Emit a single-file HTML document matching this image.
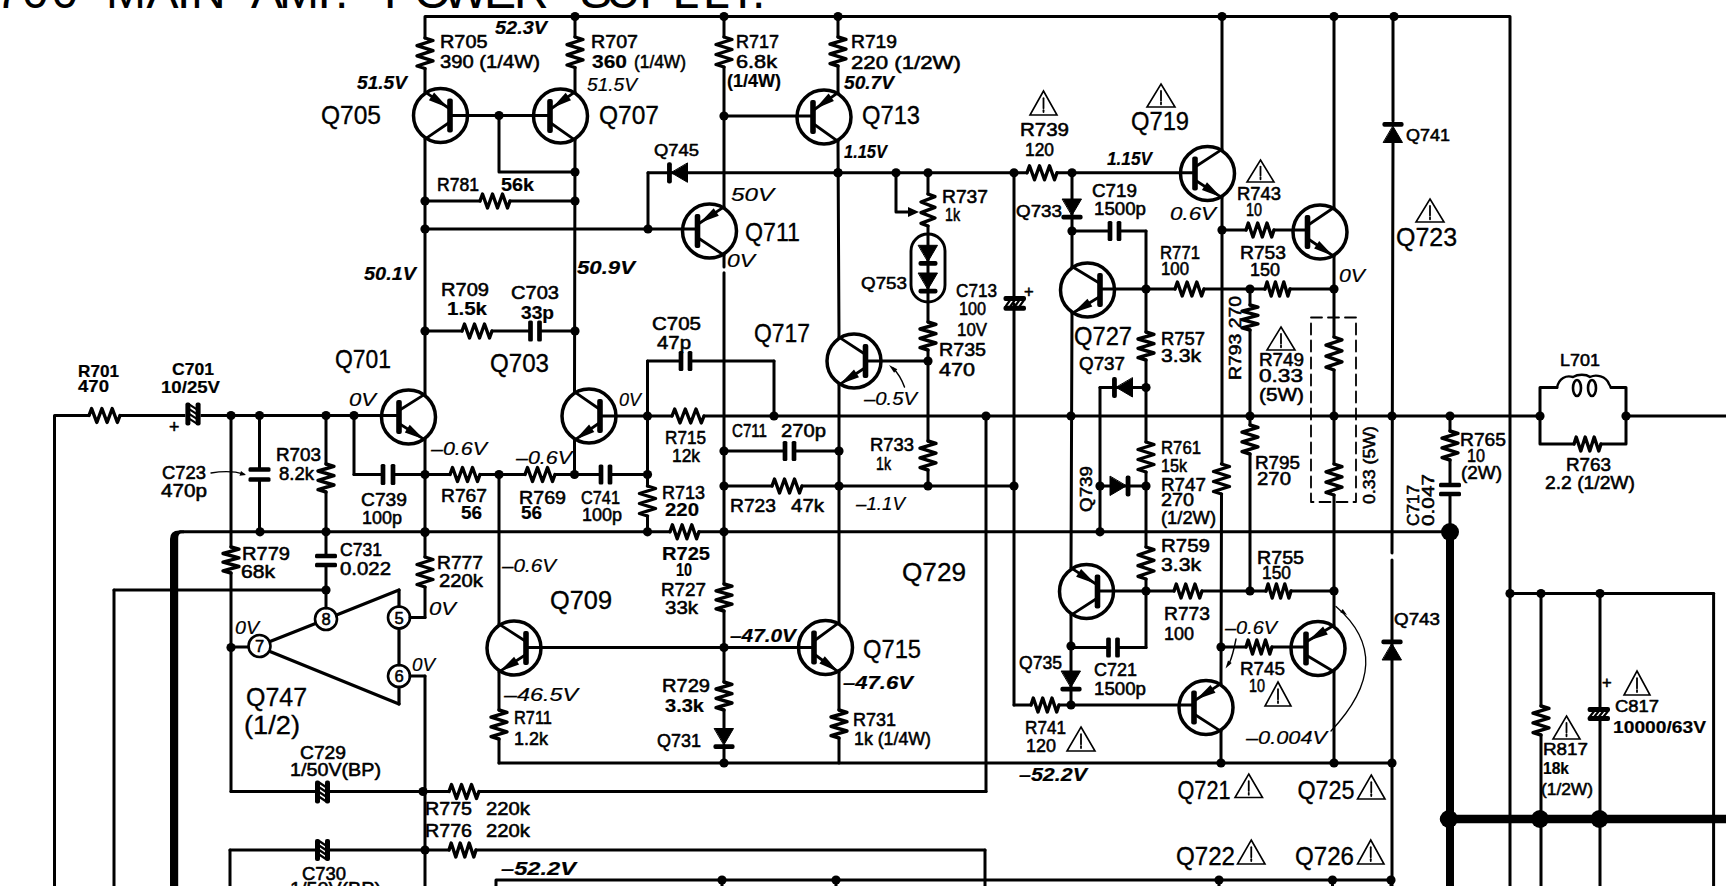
<!DOCTYPE html>
<html><head><meta charset="utf-8"><style>
html,body{margin:0;padding:0;background:#fff;width:1726px;height:886px;overflow:hidden}
svg{display:block}
text{font-family:"Liberation Sans",sans-serif;fill:#000;stroke:#000;stroke-width:0.55}
.n{}
.b{font-weight:bold;stroke-width:0.2}
.i{font-style:italic;stroke-width:0.2}
.bi{font-style:italic;font-weight:bold;stroke-width:0.2}
.q{stroke-width:0.35}
</style></head><body>
<svg width="1726" height="886" viewBox="0 0 1726 886" stroke="#000" stroke-linecap="round" stroke-linejoin="round" fill="none">
<rect x="0" y="0" width="1726" height="886" fill="#fff" stroke="none"/>
<polyline points="425,38 425,16.5 1510,16.5 1510,886" stroke-width="3.0" fill="none"/>
<circle cx="575" cy="16.5" r="4.6" fill="#000" stroke="none"/>
<circle cx="724" cy="16.5" r="4.6" fill="#000" stroke="none"/>
<circle cx="838" cy="16.5" r="4.6" fill="#000" stroke="none"/>
<circle cx="1222" cy="16.5" r="4.6" fill="#000" stroke="none"/>
<circle cx="1334" cy="16.5" r="4.6" fill="#000" stroke="none"/>
<circle cx="1394" cy="16.5" r="4.6" fill="#000" stroke="none"/>
<polyline points="425,38 433,40.5 417,45.6 433,50.7 417,55.8 433,60.9 417,66.0 425,68.5" stroke-width="3.4" fill="none"/>
<circle cx="440.5" cy="115.5" r="27" fill="none" stroke-width="3.5"/>
<rect x="447.2" y="98.5" width="5.6" height="34" rx="2" fill="#000" stroke="none"/>
<line x1="450" y1="109.0" x2="425" y2="91.94177426035654" stroke-width="2.8"/>
<line x1="450" y1="122.0" x2="425" y2="139.05822573964346" stroke-width="2.8"/>
<polygon points="448.0,107.63534194082852 428.9,100.2 434.1,92.6" fill="#000" stroke="none"/>
<line x1="425" y1="68.5" x2="425" y2="91.94177426035654" stroke-width="3.0"/>
<circle cx="408.5" cy="417" r="27" fill="none" stroke-width="3.5"/>
<rect x="396.2" y="400.0" width="5.6" height="34" rx="2" fill="#000" stroke="none"/>
<line x1="399" y1="410.5" x2="425" y2="394.1310253837213" stroke-width="2.8"/>
<line x1="399" y1="423.5" x2="425" y2="439.8689746162787" stroke-width="2.8"/>
<polygon points="424.22,439.37790537779034 404.8,432.6 409.7,424.8" fill="#000" stroke="none"/>
<line x1="425" y1="139.05822573964346" x2="425" y2="394.1310253837213" stroke-width="3.0"/>
<circle cx="425" cy="201" r="4.6" fill="#000" stroke="none"/>
<circle cx="425" cy="229" r="4.6" fill="#000" stroke="none"/>
<circle cx="425" cy="331" r="4.6" fill="#000" stroke="none"/>
<line x1="425" y1="439.8689746162787" x2="425" y2="557" stroke-width="3.0"/>
<polyline points="425,557 433,559.5 417,564.5 433,569.5 417,574.5 433,579.5 417,584.5 425,587" stroke-width="3.4" fill="none"/>
<line x1="425" y1="587" x2="425" y2="617.5" stroke-width="3.0"/>
<line x1="425" y1="617.5" x2="410" y2="617.5" stroke-width="3.0"/>
<circle cx="425" cy="474.5" r="4.6" fill="#000" stroke="none"/>
<circle cx="425" cy="532.5" r="4.6" fill="#000" stroke="none"/>
<line x1="575" y1="16.5" x2="575" y2="37" stroke-width="3.0"/>
<polyline points="575,37 583,39.5 567,44.6 583,49.7 567,54.8 583,59.9 567,65.0 575,67.5" stroke-width="3.4" fill="none"/>
<circle cx="560.5" cy="116" r="27" fill="none" stroke-width="3.5"/>
<rect x="547.2" y="99.0" width="5.6" height="34" rx="2" fill="#000" stroke="none"/>
<line x1="550" y1="109.5" x2="575" y2="91.81343348054544" stroke-width="2.8"/>
<line x1="550" y1="122.5" x2="575" y2="140.18656651945454" stroke-width="2.8"/>
<polygon points="552.0,108.08507467844363 565.7,92.8 571.0,100.3" fill="#000" stroke="none"/>
<line x1="575" y1="67.5" x2="575" y2="91.81343348054544" stroke-width="3.0"/>
<circle cx="589" cy="416" r="27" fill="none" stroke-width="3.5"/>
<rect x="597.2" y="399.0" width="5.6" height="34" rx="2" fill="#000" stroke="none"/>
<line x1="600" y1="409.5" x2="574.5" y2="391.8134334805454" stroke-width="2.8"/>
<line x1="600" y1="422.5" x2="574.5" y2="440.1865665194546" stroke-width="2.8"/>
<polygon points="575.265,439.6559695238709 589.1,424.5 594.3,432.0" fill="#000" stroke="none"/>
<line x1="575" y1="140.18656651945454" x2="574.5" y2="391.8134334805454" stroke-width="3.0"/>
<circle cx="575" cy="172" r="4.6" fill="#000" stroke="none"/>
<circle cx="575" cy="201" r="4.6" fill="#000" stroke="none"/>
<circle cx="575" cy="331" r="4.6" fill="#000" stroke="none"/>
<line x1="574.5" y1="440.1865665194546" x2="574.5" y2="474.5" stroke-width="3.0"/>
<circle cx="574.5" cy="474.5" r="4.6" fill="#000" stroke="none"/>
<line x1="450" y1="115.5" x2="550" y2="115.5" stroke-width="3.0"/>
<circle cx="499" cy="115.5" r="4.6" fill="#000" stroke="none"/>
<polyline points="499,115.5 499,172 575,172" stroke-width="3.0" fill="none"/>
<line x1="425" y1="201" x2="480" y2="201" stroke-width="3.0"/>
<polyline points="480,201 482.5,194 487.5,208 492.5,194 497.5,208 502.5,194 507.5,208 510,201" stroke-width="3.4" fill="none"/>
<line x1="510" y1="201" x2="575" y2="201" stroke-width="3.0"/>
<line x1="425" y1="229" x2="697.5" y2="229" stroke-width="3.0"/>
<circle cx="648" cy="229" r="4.6" fill="#000" stroke="none"/>
<line x1="648" y1="229" x2="648" y2="172.8" stroke-width="3.0"/>
<line x1="425" y1="331" x2="462" y2="331" stroke-width="3.0"/>
<polyline points="462,331 464.5,324 469.5,338 474.5,324 479.5,338 484.5,324 489.5,338 492,331" stroke-width="3.4" fill="none"/>
<line x1="492" y1="331" x2="575" y2="331" stroke-width="3.0"/>
<rect x="529.5" y="320.5" width="11" height="21.0" fill="#fff" stroke="none"/>
<rect x="528.15" y="320.5" width="4.7" height="21.0" rx="1.5" fill="#000" stroke="none"/>
<rect x="537.15" y="320.5" width="4.7" height="21.0" rx="1.5" fill="#000" stroke="none"/>
<line x1="724" y1="16.5" x2="724" y2="37" stroke-width="3.0"/>
<polyline points="724,37 732,39.5 716,44.5 732,49.5 716,54.5 732,59.5 716,64.5 724,67" stroke-width="3.4" fill="none"/>
<circle cx="709.5" cy="231" r="27" fill="none" stroke-width="3.5"/>
<rect x="694.7" y="214.0" width="5.6" height="34" rx="2" fill="#000" stroke="none"/>
<line x1="697.5" y1="224.5" x2="724" y2="206.81343348054546" stroke-width="2.8"/>
<line x1="697.5" y1="237.5" x2="724" y2="255.18656651945454" stroke-width="2.8"/>
<polygon points="699.62,223.08507467844365 713.7,208.2 718.8,215.8" fill="#000" stroke="none"/>
<line x1="724" y1="67" x2="724" y2="206.81343348054546" stroke-width="3.0"/>
<circle cx="724" cy="116" r="4.6" fill="#000" stroke="none"/>
<line x1="724" y1="255.18656651945454" x2="724" y2="267" stroke-width="3.0"/>
<line x1="724" y1="272.7" x2="724" y2="584" stroke-width="3.0"/>
<polyline points="724,584 732,586.2 716,590.8 732,595.2 716,599.8 732,604.2 716,608.8 724,611" stroke-width="3.4" fill="none"/>
<line x1="724" y1="611" x2="724" y2="682" stroke-width="3.0"/>
<polyline points="724,682 732,684.3 716,689.0 732,693.7 716,698.3 732,703.0 716,707.7 724,710" stroke-width="3.4" fill="none"/>
<line x1="724" y1="710" x2="724" y2="730" stroke-width="3.0"/>
<polygon points="714.5,728.5 733.5,728.5 724,744.65" fill="#000" stroke="#000" stroke-width="1"/>
<rect x="713.4" y="744.15" width="21.2" height="4.8" rx="2" fill="#000" stroke="none"/>
<line x1="724" y1="745" x2="724" y2="763" stroke-width="3.0"/>
<circle cx="724" cy="451" r="4.6" fill="#000" stroke="none"/>
<circle cx="724" cy="486" r="4.6" fill="#000" stroke="none"/>
<circle cx="724" cy="531.8" r="4.6" fill="#000" stroke="none"/>
<circle cx="724" cy="647.5" r="4.6" fill="#000" stroke="none"/>
<circle cx="724" cy="763" r="4.6" fill="#000" stroke="none"/>
<line x1="838" y1="16.5" x2="838" y2="37" stroke-width="3.0"/>
<polyline points="838,37 846,39.4 830,44.2 846,49.1 830,53.9 846,58.8 830,63.6 838,66" stroke-width="3.4" fill="none"/>
<circle cx="824" cy="117" r="27" fill="none" stroke-width="3.5"/>
<rect x="810.2" y="100.0" width="5.6" height="34" rx="2" fill="#000" stroke="none"/>
<line x1="813" y1="110.5" x2="838" y2="92.52062092290738" stroke-width="2.8"/>
<line x1="813" y1="123.5" x2="838" y2="141.47937907709263" stroke-width="2.8"/>
<polygon points="815.0,109.06164967383259 828.6,93.6 833.9,101.1" fill="#000" stroke="none"/>
<line x1="838" y1="66" x2="838" y2="92.52062092290738" stroke-width="3.0"/>
<line x1="724" y1="116" x2="813" y2="116" stroke-width="3.0"/>
<circle cx="854" cy="361" r="27" fill="none" stroke-width="3.5"/>
<rect x="862.7" y="344.0" width="5.6" height="34" rx="2" fill="#000" stroke="none"/>
<line x1="865.5" y1="354.5" x2="839" y2="337.1203015094411" stroke-width="2.8"/>
<line x1="865.5" y1="367.5" x2="839" y2="384.8796984905589" stroke-width="2.8"/>
<polygon points="839.795,384.35830753584213 854.0,369.5 859.0,377.2" fill="#000" stroke="none"/>
<line x1="838" y1="141.47937907709263" x2="839" y2="337.1203015094411" stroke-width="3.0"/>
<circle cx="838" cy="172.8" r="4.6" fill="#000" stroke="none"/>
<circle cx="825.5" cy="647.5" r="27" fill="none" stroke-width="3.5"/>
<rect x="811.2" y="630.5" width="5.6" height="34" rx="2" fill="#000" stroke="none"/>
<line x1="814" y1="641.0" x2="839" y2="622.7413651426416" stroke-width="2.8"/>
<line x1="814" y1="654.0" x2="839" y2="672.2586348573584" stroke-width="2.8"/>
<polygon points="838.25,671.7108758116376 819.4,663.6 824.8,656.2" fill="#000" stroke="none"/>
<line x1="839" y1="384.8796984905589" x2="839" y2="622.7413651426416" stroke-width="3.0"/>
<circle cx="839" cy="451" r="4.6" fill="#000" stroke="none"/>
<circle cx="839" cy="486" r="4.6" fill="#000" stroke="none"/>
<line x1="839" y1="672.2586348573584" x2="839" y2="710" stroke-width="3.0"/>
<polyline points="839,710 847,712.3 831,717.0 847,721.7 831,726.3 847,731.0 831,735.7 839,738" stroke-width="3.4" fill="none"/>
<line x1="839" y1="738" x2="839" y2="763" stroke-width="3.0"/>
<line x1="648" y1="172.8" x2="1027" y2="172.8" stroke-width="3.0"/>
<polyline points="1027,172.8 1029.5,165.8 1034.5,179.8 1039.5,165.8 1044.5,179.8 1049.5,165.8 1054.5,179.8 1057,172.8" stroke-width="3.4" fill="none"/>
<line x1="1057" y1="172.8" x2="1195" y2="172.8" stroke-width="3.0"/>
<polygon points="687.5,163.3 687.5,182.3 671.35,172.8" fill="#000" stroke="#000" stroke-width="1"/>
<rect x="667.0500000000001" y="162.20000000000002" width="4.8" height="21.2" rx="2" fill="#000" stroke="none"/>
<circle cx="838" cy="172.8" r="4.6" fill="#000" stroke="none"/>
<circle cx="896" cy="172.8" r="4.6" fill="#000" stroke="none"/>
<circle cx="928" cy="172.8" r="4.6" fill="#000" stroke="none"/>
<circle cx="1014" cy="172.8" r="4.6" fill="#000" stroke="none"/>
<circle cx="1072" cy="172.8" r="4.6" fill="#000" stroke="none"/>
<polyline points="896,172.8 896,212 909,212" stroke-width="3.0" fill="none"/>
<polygon points="919,212 908.0,217.0 908.0,207.0" fill="#000" stroke="none"/>
<line x1="928" y1="172.8" x2="928" y2="194" stroke-width="3.0"/>
<polyline points="928,194 935,196.7 921,202.0 935,207.3 921,212.7 935,218.0 921,223.3 928,226" stroke-width="3.4" fill="none"/>
<line x1="928" y1="226" x2="928" y2="322" stroke-width="3.0"/>
<rect x="911" y="234" width="34" height="68" rx="17" ry="17" fill="none" stroke-width="2.9"/>
<polygon points="918.5,245.3 937.5,245.3 928,261.45" fill="#000" stroke="#000" stroke-width="1"/>
<rect x="918.5" y="260.95" width="19.0" height="4.8" rx="2" fill="#000" stroke="none"/>
<polygon points="918.5,273.0 937.5,273.0 928,289.15" fill="#000" stroke="#000" stroke-width="1"/>
<rect x="918.5" y="288.65" width="19.0" height="4.8" rx="2" fill="#000" stroke="none"/>
<polyline points="928,322 936,324.3 920,329.0 936,333.7 920,338.3 936,343.0 920,347.7 928,350" stroke-width="3.4" fill="none"/>
<line x1="928" y1="350" x2="928" y2="441" stroke-width="3.0"/>
<polyline points="928,441 936,443.4 920,448.2 936,453.1 920,457.9 936,462.8 920,467.6 928,470" stroke-width="3.4" fill="none"/>
<line x1="928" y1="470" x2="928" y2="486" stroke-width="3.0"/>
<circle cx="928" cy="361" r="4.6" fill="#000" stroke="none"/>
<circle cx="928" cy="486" r="4.6" fill="#000" stroke="none"/>
<line x1="865.5" y1="361" x2="928" y2="361" stroke-width="3.0"/>
<path d="M904.5,387 Q900,375 893,368" fill="none" stroke-width="1.5"/>
<polygon points="889,365 897.3,369.2 894.1,372.8" fill="#000" stroke="none"/>
<circle cx="986" cy="416" r="4.6" fill="#000" stroke="none"/>
<line x1="986" y1="416" x2="986" y2="791.5" stroke-width="3.0"/>
<line x1="231" y1="791.5" x2="449" y2="791.5" stroke-width="3.0"/>
<polyline points="449,791.5 451.5,784.5 456.5,798.5 461.5,784.5 466.5,798.5 471.5,784.5 476.5,798.5 479,791.5" stroke-width="3.4" fill="none"/>
<line x1="479" y1="791.5" x2="986" y2="791.5" stroke-width="3.0"/>
<circle cx="423" cy="791.5" r="4.6" fill="#000" stroke="none"/>
<rect x="315" y="780.4" width="15" height="23.0" fill="#fff" stroke="none"/>
<rect x="315" y="780.4" width="5" height="23.0" rx="2" fill="#000" stroke="none"/>
<rect x="325" y="780.4" width="5" height="23.0" rx="2" fill="#000" stroke="none"/>
<line x1="319.5" y1="782.775" x2="325.5" y2="786.775" stroke-width="2.2"/>
<line x1="319.5" y1="787.525" x2="325.5" y2="791.525" stroke-width="2.2"/>
<line x1="319.5" y1="792.275" x2="325.5" y2="796.275" stroke-width="2.2"/>
<line x1="319.5" y1="797.025" x2="325.5" y2="801.025" stroke-width="2.2"/>
<line x1="1014" y1="172.8" x2="1014" y2="296" stroke-width="3.0"/>
<rect x="1003.5" y="296" width="22.5" height="14.699999999999989" fill="#fff" stroke="none"/>
<rect x="1003.5" y="296" width="22.5" height="5" rx="2" fill="#000" stroke="none"/>
<rect x="1003.5" y="305.7" width="22.5" height="5" rx="2" fill="#000" stroke="none"/>
<line x1="1005.8125" y1="306.2" x2="1009.8125" y2="300.5" stroke-width="2.2"/>
<line x1="1010.4375" y1="306.2" x2="1014.4375" y2="300.5" stroke-width="2.2"/>
<line x1="1015.0625" y1="306.2" x2="1019.0625" y2="300.5" stroke-width="2.2"/>
<line x1="1019.6875" y1="306.2" x2="1023.6875" y2="300.5" stroke-width="2.2"/>
<line x1="1014" y1="304" x2="1014" y2="705" stroke-width="3.0"/>
<circle cx="1014" cy="486" r="4.6" fill="#000" stroke="none"/>
<line x1="1014" y1="705" x2="1031" y2="705" stroke-width="3.0"/>
<polyline points="1031,705 1033.3,698 1038.0,712 1042.7,698 1047.3,712 1052.0,698 1056.7,712 1059,705" stroke-width="3.4" fill="none"/>
<line x1="1059" y1="705" x2="1194" y2="705" stroke-width="3.0"/>
<circle cx="1071" cy="705" r="4.6" fill="#000" stroke="none"/>
<line x1="724" y1="486" x2="772" y2="486" stroke-width="3.0"/>
<polyline points="772,486 774.5,479 779.5,493 784.5,479 789.5,493 794.5,479 799.5,493 802,486" stroke-width="3.4" fill="none"/>
<line x1="802" y1="486" x2="1014" y2="486" stroke-width="3.0"/>
<line x1="724" y1="451" x2="785" y2="451" stroke-width="3.0"/>
<rect x="784.0" y="441" width="11" height="20" fill="#fff" stroke="none"/>
<rect x="782.65" y="441" width="4.7" height="20" rx="1.5" fill="#000" stroke="none"/>
<rect x="791.65" y="441" width="4.7" height="20" rx="1.5" fill="#000" stroke="none"/>
<line x1="794" y1="451" x2="839" y2="451" stroke-width="3.0"/>
<line x1="600" y1="416" x2="672" y2="416" stroke-width="3.0"/>
<polyline points="672,416 674.7,409 680.0,423 685.3,409 690.7,423 696.0,409 701.3,423 704,416" stroke-width="3.4" fill="none"/>
<line x1="704" y1="416" x2="1540" y2="416" stroke-width="3.0"/>
<line x1="1626" y1="416" x2="1726" y2="416" stroke-width="3.0"/>
<circle cx="647.5" cy="416" r="4.6" fill="#000" stroke="none"/>
<circle cx="774" cy="416" r="4.6" fill="#000" stroke="none"/>
<circle cx="1071" cy="416" r="4.6" fill="#000" stroke="none"/>
<circle cx="1250" cy="416" r="4.6" fill="#000" stroke="none"/>
<circle cx="1334" cy="416" r="4.6" fill="#000" stroke="none"/>
<circle cx="1392" cy="416" r="4.6" fill="#000" stroke="none"/>
<circle cx="1450" cy="416" r="4.6" fill="#000" stroke="none"/>
<circle cx="1540" cy="416" r="4.6" fill="#000" stroke="none"/>
<circle cx="1626" cy="416" r="4.6" fill="#000" stroke="none"/>
<line x1="647.5" y1="361" x2="681" y2="361" stroke-width="3.0"/>
<rect x="680.0" y="351" width="11" height="20" fill="#fff" stroke="none"/>
<rect x="678.65" y="351" width="4.7" height="20" rx="1.5" fill="#000" stroke="none"/>
<rect x="687.65" y="351" width="4.7" height="20" rx="1.5" fill="#000" stroke="none"/>
<line x1="690" y1="361" x2="774" y2="361" stroke-width="3.0"/>
<line x1="774" y1="361" x2="774" y2="416" stroke-width="3.0"/>
<line x1="647.5" y1="361" x2="647.5" y2="486" stroke-width="3.0"/>
<polyline points="647.5,486 655.5,488.5 639.5,493.5 655.5,498.5 639.5,503.5 655.5,508.5 639.5,513.5 647.5,516" stroke-width="3.4" fill="none"/>
<line x1="647.5" y1="516" x2="647.5" y2="531.8" stroke-width="3.0"/>
<circle cx="647.5" cy="474.5" r="4.6" fill="#000" stroke="none"/>
<circle cx="647.5" cy="531.8" r="4.6" fill="#000" stroke="none"/>
<line x1="354" y1="415.5" x2="354" y2="474.5" stroke-width="3.0"/>
<line x1="354" y1="474.5" x2="383" y2="474.5" stroke-width="3.0"/>
<rect x="382.0" y="464.0" width="12" height="21.0" fill="#fff" stroke="none"/>
<rect x="380.65" y="464.0" width="4.7" height="21.0" rx="1.5" fill="#000" stroke="none"/>
<rect x="390.65" y="464.0" width="4.7" height="21.0" rx="1.5" fill="#000" stroke="none"/>
<line x1="393" y1="474.5" x2="450" y2="474.5" stroke-width="3.0"/>
<polyline points="450,474.5 452.5,467.5 457.5,481.5 462.5,467.5 467.5,481.5 472.5,467.5 477.5,481.5 480,474.5" stroke-width="3.4" fill="none"/>
<line x1="480" y1="474.5" x2="525" y2="474.5" stroke-width="3.0"/>
<polyline points="525,474.5 527.5,467.5 532.5,481.5 537.5,467.5 542.5,481.5 547.5,467.5 552.5,481.5 555,474.5" stroke-width="3.4" fill="none"/>
<line x1="555" y1="474.5" x2="601" y2="474.5" stroke-width="3.0"/>
<rect x="600.0" y="464.5" width="11" height="20" fill="#fff" stroke="none"/>
<rect x="598.65" y="464.5" width="4.7" height="20" rx="1.5" fill="#000" stroke="none"/>
<rect x="607.65" y="464.5" width="4.7" height="20" rx="1.5" fill="#000" stroke="none"/>
<line x1="610" y1="474.5" x2="647.5" y2="474.5" stroke-width="3.0"/>
<circle cx="499" cy="474.5" r="4.6" fill="#000" stroke="none"/>
<circle cx="514" cy="648" r="27" fill="none" stroke-width="3.5"/>
<rect x="523.2" y="631.0" width="5.6" height="34" rx="2" fill="#000" stroke="none"/>
<line x1="526" y1="641.5" x2="499" y2="624.1203015094411" stroke-width="2.8"/>
<line x1="526" y1="654.5" x2="499" y2="671.8796984905589" stroke-width="2.8"/>
<polygon points="499.81,671.3583075358421 514.1,656.7 519.1,664.4" fill="#000" stroke="none"/>
<line x1="499" y1="474.5" x2="499" y2="624.1203015094411" stroke-width="3.0"/>
<line x1="499" y1="671.8796984905589" x2="499" y2="710" stroke-width="3.0"/>
<polyline points="499,710 507,712.4 491,717.2 507,722.1 491,726.9 507,731.8 491,736.6 499,739" stroke-width="3.4" fill="none"/>
<line x1="499" y1="739" x2="499" y2="763" stroke-width="3.0"/>
<line x1="499" y1="763" x2="1392" y2="763" stroke-width="3.0"/>
<line x1="526" y1="647.5" x2="814" y2="647.5" stroke-width="3.0"/>
<circle cx="1221" cy="763" r="4.6" fill="#000" stroke="none"/>
<circle cx="1334" cy="763" r="4.6" fill="#000" stroke="none"/>
<circle cx="1392" cy="763" r="4.6" fill="#000" stroke="none"/>
<line x1="180" y1="531.8" x2="670" y2="531.8" stroke-width="3.0"/>
<polyline points="670,531.8 672.4,524.8 677.2,538.8 682.1,524.8 686.9,538.8 691.8,524.8 696.6,538.8 699,531.8" stroke-width="3.4" fill="none"/>
<line x1="699" y1="531.8" x2="1450" y2="531.8" stroke-width="3.0"/>
<circle cx="260" cy="531.8" r="4.6" fill="#000" stroke="none"/>
<circle cx="326" cy="531.8" r="4.6" fill="#000" stroke="none"/>
<circle cx="425" cy="531.8" r="4.6" fill="#000" stroke="none"/>
<circle cx="1100" cy="531.8" r="4.6" fill="#000" stroke="none"/>
<path d="M170,886 V539 Q170,530.4 179,530.4 H184 V533.2 H182 Q178.2,533.2 178.2,538 V886 Z" fill="#000" stroke="none"/>
<polyline points="54.5,886 54.5,415.5 89,415.5" stroke-width="3.0" fill="none"/>
<polyline points="89,415.5 91.6,408.5 96.8,422.5 101.9,408.5 107.1,422.5 112.2,408.5 117.4,422.5 120,415.5" stroke-width="3.4" fill="none"/>
<line x1="120" y1="415.5" x2="399" y2="415.5" stroke-width="3.0"/>
<rect x="185.4" y="402.5" width="15.199999999999989" height="23.0" fill="#fff" stroke="none"/>
<rect x="185.4" y="402.5" width="5" height="23.0" rx="2" fill="#000" stroke="none"/>
<rect x="195.6" y="402.5" width="5" height="23.0" rx="2" fill="#000" stroke="none"/>
<line x1="189.9" y1="404.875" x2="196.1" y2="408.875" stroke-width="2.2"/>
<line x1="189.9" y1="409.625" x2="196.1" y2="413.625" stroke-width="2.2"/>
<line x1="189.9" y1="414.375" x2="196.1" y2="418.375" stroke-width="2.2"/>
<line x1="189.9" y1="419.125" x2="196.1" y2="423.125" stroke-width="2.2"/>
<circle cx="231" cy="415.5" r="4.6" fill="#000" stroke="none"/>
<circle cx="259.5" cy="415.5" r="4.6" fill="#000" stroke="none"/>
<circle cx="326" cy="415.5" r="4.6" fill="#000" stroke="none"/>
<circle cx="354" cy="415.5" r="4.6" fill="#000" stroke="none"/>
<line x1="231" y1="415.5" x2="231" y2="547" stroke-width="3.0"/>
<polyline points="231,547 239,549.2 223,553.5 239,557.8 223,562.2 239,566.5 223,570.8 231,573" stroke-width="3.4" fill="none"/>
<line x1="231" y1="573" x2="231" y2="791.5" stroke-width="3.0"/>
<circle cx="231" cy="647.5" r="4.6" fill="#000" stroke="none"/>
<line x1="259.5" y1="415.5" x2="259.5" y2="531.8" stroke-width="3.0"/>
<rect x="248.5" y="468.5" width="22" height="12" fill="#fff" stroke="none"/>
<rect y="467.15" x="248.5" height="4.7" width="22" rx="1.5" fill="#000" stroke="none"/>
<rect y="477.15" x="248.5" height="4.7" width="22" rx="1.5" fill="#000" stroke="none"/>
<line x1="326" y1="415.5" x2="326" y2="464" stroke-width="3.0"/>
<polyline points="326,464 334,466.3 318,471.0 334,475.7 318,480.3 334,485.0 318,489.7 326,492" stroke-width="3.4" fill="none"/>
<line x1="326" y1="492" x2="326" y2="608" stroke-width="3.0"/>
<rect x="315" y="555.0" width="22" height="11" fill="#fff" stroke="none"/>
<rect y="553.65" x="315" height="4.7" width="22" rx="1.5" fill="#000" stroke="none"/>
<rect y="562.65" x="315" height="4.7" width="22" rx="1.5" fill="#000" stroke="none"/>
<circle cx="326" cy="590" r="4.6" fill="#000" stroke="none"/>
<line x1="114" y1="590" x2="326" y2="590" stroke-width="3.0"/>
<line x1="114" y1="590" x2="114" y2="886" stroke-width="3.0"/>
<path d="M211,473 Q230,470 244,474" fill="none" stroke-width="1.3"/>
<polygon points="246,475 239.5,475.7 241.0,470.9" fill="#000" stroke="none"/>
<circle cx="259.5" cy="646" r="11" fill="none" stroke-width="2.6"/>
<circle cx="326" cy="619" r="11" fill="none" stroke-width="2.6"/>
<circle cx="399" cy="617.5" r="11" fill="none" stroke-width="2.6"/>
<circle cx="399" cy="676" r="11" fill="none" stroke-width="2.6"/>
<line x1="231" y1="647" x2="248.5" y2="647" stroke-width="3.0"/>
<line x1="270" y1="641.5" x2="315.5" y2="623.5" stroke-width="3.2"/>
<line x1="336.5" y1="615" x2="399" y2="590" stroke-width="3.2"/>
<line x1="399" y1="590" x2="399" y2="606.5" stroke-width="3.2"/>
<line x1="399" y1="628.5" x2="399" y2="665" stroke-width="3.2"/>
<line x1="399" y1="687" x2="399" y2="704" stroke-width="3.2"/>
<line x1="399" y1="704" x2="270" y2="651.5" stroke-width="3.2"/>
<line x1="410" y1="676" x2="425" y2="676" stroke-width="3.0"/>
<line x1="425" y1="676" x2="425" y2="886" stroke-width="3.0"/>
<circle cx="425" cy="850" r="4.6" fill="#000" stroke="none"/>
<line x1="230" y1="850" x2="449" y2="850" stroke-width="3.0"/>
<rect x="315" y="839" width="15" height="22" fill="#fff" stroke="none"/>
<rect x="315" y="839" width="5" height="22" rx="2" fill="#000" stroke="none"/>
<rect x="325" y="839" width="5" height="22" rx="2" fill="#000" stroke="none"/>
<line x1="319.5" y1="841.25" x2="325.5" y2="845.25" stroke-width="2.2"/>
<line x1="319.5" y1="845.75" x2="325.5" y2="849.75" stroke-width="2.2"/>
<line x1="319.5" y1="850.25" x2="325.5" y2="854.25" stroke-width="2.2"/>
<line x1="319.5" y1="854.75" x2="325.5" y2="858.75" stroke-width="2.2"/>
<polyline points="449,850 451.2,843 455.8,857 460.2,843 464.8,857 469.2,843 473.8,857 476,850" stroke-width="3.4" fill="none"/>
<line x1="476" y1="850" x2="985" y2="850" stroke-width="3.0"/>
<line x1="985" y1="850" x2="985" y2="886" stroke-width="3.0"/>
<line x1="230" y1="850" x2="230" y2="886" stroke-width="3.0"/>
<polyline points="496,886 496,880 1392,880" stroke-width="3.0" fill="none"/>
<circle cx="722" cy="880" r="4.6" fill="#000" stroke="none"/>
<line x1="722" y1="880" x2="722" y2="886" stroke-width="3.0"/>
<circle cx="836" cy="880" r="4.6" fill="#000" stroke="none"/>
<line x1="836" y1="880" x2="836" y2="886" stroke-width="3.0"/>
<circle cx="1219" cy="880" r="4.6" fill="#000" stroke="none"/>
<line x1="1219" y1="880" x2="1219" y2="886" stroke-width="3.0"/>
<circle cx="1332.5" cy="880" r="4.6" fill="#000" stroke="none"/>
<line x1="1332.5" y1="880" x2="1332.5" y2="886" stroke-width="3.0"/>
<circle cx="1391" cy="880" r="4.6" fill="#000" stroke="none"/>
<line x1="1391" y1="880" x2="1391" y2="886" stroke-width="3.0"/>
<line x1="1393" y1="16.5" x2="1393" y2="121" stroke-width="3.0"/>
<polygon points="1383.5,142.5 1402.5,142.5 1393,126.35" fill="#000" stroke="#000" stroke-width="1"/>
<rect x="1382.4" y="122.05" width="21.2" height="4.8" rx="2" fill="#000" stroke="none"/>
<line x1="1393" y1="138" x2="1392" y2="553" stroke-width="3.0"/>
<line x1="1392" y1="560" x2="1392" y2="886" stroke-width="3.0"/>
<polygon points="1382.5,660.0 1401.5,660.0 1392,643.85" fill="#000" stroke="#000" stroke-width="1"/>
<rect x="1381.4" y="639.5500000000001" width="21.2" height="4.8" rx="2" fill="#000" stroke="none"/>
<line x1="1072" y1="172.8" x2="1072" y2="200" stroke-width="3.0"/>
<polygon points="1062.5,199.0 1081.5,199.0 1072,215.15" fill="#000" stroke="#000" stroke-width="1"/>
<rect x="1061.4" y="214.65" width="21.2" height="4.8" rx="2" fill="#000" stroke="none"/>
<circle cx="1087.5" cy="290" r="27" fill="none" stroke-width="3.5"/>
<rect x="1097.2" y="273.0" width="5.6" height="34" rx="2" fill="#000" stroke="none"/>
<line x1="1100" y1="283.5" x2="1072" y2="266.4417742603565" stroke-width="2.8"/>
<line x1="1100" y1="296.5" x2="1072" y2="313.5582257396435" stroke-width="2.8"/>
<polygon points="1072.84,313.04647896745416 1087.5,298.7 1092.3,306.6" fill="#000" stroke="none"/>
<line x1="1072" y1="213" x2="1072" y2="266.4417742603565" stroke-width="3.0"/>
<circle cx="1072" cy="231" r="4.6" fill="#000" stroke="none"/>
<line x1="1072" y1="231" x2="1110" y2="231" stroke-width="3.0"/>
<rect x="1109.0" y="221" width="11" height="20" fill="#fff" stroke="none"/>
<rect x="1107.65" y="221" width="4.7" height="20" rx="1.5" fill="#000" stroke="none"/>
<rect x="1116.65" y="221" width="4.7" height="20" rx="1.5" fill="#000" stroke="none"/>
<line x1="1119" y1="231" x2="1146" y2="231" stroke-width="3.0"/>
<line x1="1146" y1="231" x2="1146" y2="332" stroke-width="3.0"/>
<polyline points="1146,332 1154,334.3 1138,339.0 1154,343.7 1138,348.3 1154,353.0 1138,357.7 1146,360" stroke-width="3.4" fill="none"/>
<line x1="1146" y1="360" x2="1146" y2="442" stroke-width="3.0"/>
<polyline points="1146,442 1154,444.5 1138,449.5 1154,454.5 1138,459.5 1154,464.5 1138,469.5 1146,472" stroke-width="3.4" fill="none"/>
<line x1="1146" y1="472" x2="1146" y2="547" stroke-width="3.0"/>
<polyline points="1146,547 1154,549.7 1138,555.0 1154,560.3 1138,565.7 1154,571.0 1138,576.3 1146,579" stroke-width="3.4" fill="none"/>
<line x1="1146" y1="579" x2="1146" y2="647.5" stroke-width="3.0"/>
<line x1="1146" y1="647.5" x2="1117" y2="647.5" stroke-width="3.0"/>
<rect x="1107.5" y="637.5" width="11" height="20" fill="#fff" stroke="none"/>
<rect x="1106.15" y="637.5" width="4.7" height="20" rx="1.5" fill="#000" stroke="none"/>
<rect x="1115.15" y="637.5" width="4.7" height="20" rx="1.5" fill="#000" stroke="none"/>
<line x1="1109" y1="647.5" x2="1071" y2="647.5" stroke-width="3.0"/>
<circle cx="1086.5" cy="591.5" r="27" fill="none" stroke-width="3.5"/>
<rect x="1094.7" y="574.5" width="5.6" height="34" rx="2" fill="#000" stroke="none"/>
<line x1="1097.5" y1="585.0" x2="1071" y2="567.9417742603565" stroke-width="2.8"/>
<line x1="1097.5" y1="598.0" x2="1071" y2="615.0582257396435" stroke-width="2.8"/>
<polygon points="1095.38,583.6353419408285 1076.1,576.7 1081.1,568.9" fill="#000" stroke="none"/>
<line x1="1072" y1="313.5582257396435" x2="1071" y2="567.9417742603565" stroke-width="3.0"/>
<line x1="1071" y1="615.0582257396435" x2="1071" y2="672" stroke-width="3.0"/>
<polygon points="1061.5,671.0 1080.5,671.0 1071,687.15" fill="#000" stroke="#000" stroke-width="1"/>
<rect x="1060.4" y="686.65" width="21.2" height="4.8" rx="2" fill="#000" stroke="none"/>
<line x1="1071" y1="686" x2="1071" y2="705" stroke-width="3.0"/>
<circle cx="1146" cy="289" r="4.6" fill="#000" stroke="none"/>
<circle cx="1146" cy="387.5" r="4.6" fill="#000" stroke="none"/>
<circle cx="1146" cy="486" r="4.6" fill="#000" stroke="none"/>
<circle cx="1146" cy="591" r="4.6" fill="#000" stroke="none"/>
<circle cx="1071" cy="646" r="4.6" fill="#000" stroke="none"/>
<line x1="1100" y1="289" x2="1175" y2="289" stroke-width="3.0"/>
<polyline points="1175,289 1177.4,282 1182.2,296 1187.1,282 1191.9,296 1196.8,282 1201.6,296 1204,289" stroke-width="3.4" fill="none"/>
<line x1="1204" y1="289" x2="1265" y2="289" stroke-width="3.0"/>
<polyline points="1265,289 1267.1,282 1271.2,296 1275.4,282 1279.6,296 1283.8,282 1287.9,296 1290,289" stroke-width="3.4" fill="none"/>
<line x1="1290" y1="289" x2="1334" y2="289" stroke-width="3.0"/>
<line x1="1100" y1="387.5" x2="1146" y2="387.5" stroke-width="3.0"/>
<polygon points="1132.5,378.0 1132.5,397.0 1116.35,387.5" fill="#000" stroke="#000" stroke-width="1"/>
<rect x="1112.05" y="376.9" width="4.8" height="21.2" rx="2" fill="#000" stroke="none"/>
<line x1="1100" y1="387.5" x2="1100" y2="531.8" stroke-width="3.0"/>
<circle cx="1100" cy="486" r="4.6" fill="#000" stroke="none"/>
<line x1="1100" y1="486" x2="1146" y2="486" stroke-width="3.0"/>
<polygon points="1110.0,476.5 1110.0,495.5 1126.15,486" fill="#000" stroke="#000" stroke-width="1"/>
<rect x="1125.65" y="475.4" width="4.8" height="21.2" rx="2" fill="#000" stroke="none"/>
<line x1="1097.5" y1="591" x2="1174" y2="591" stroke-width="3.0"/>
<polyline points="1174,591 1176.3,584 1181.0,598 1185.7,584 1190.3,598 1195.0,584 1199.7,598 1202,591" stroke-width="3.4" fill="none"/>
<line x1="1202" y1="591" x2="1266" y2="591" stroke-width="3.0"/>
<polyline points="1266,591 1268.1,584 1272.2,598 1276.4,584 1280.6,598 1284.8,584 1288.9,598 1291,591" stroke-width="3.4" fill="none"/>
<line x1="1291" y1="591" x2="1334" y2="591" stroke-width="3.0"/>
<circle cx="1207.5" cy="173.5" r="27" fill="none" stroke-width="3.5"/>
<rect x="1192.2" y="156.5" width="5.6" height="34" rx="2" fill="#000" stroke="none"/>
<line x1="1195" y1="167.0" x2="1222" y2="149.31343348054546" stroke-width="2.8"/>
<line x1="1195" y1="180.0" x2="1222" y2="197.68656651945454" stroke-width="2.8"/>
<polygon points="1221.19,197.1559695238709 1201.9,190.0 1207.0,182.3" fill="#000" stroke="none"/>
<line x1="1222" y1="16.5" x2="1222" y2="149.31343348054546" stroke-width="3.0"/>
<line x1="1222" y1="197.68656651945454" x2="1222" y2="464" stroke-width="3.0"/>
<polyline points="1221.5,464 1229.5,466.5 1213.5,471.5 1229.5,476.5 1213.5,481.5 1229.5,486.5 1213.5,491.5 1221.5,494" stroke-width="3.4" fill="none"/>
<circle cx="1206" cy="707.5" r="27" fill="none" stroke-width="3.5"/>
<rect x="1191.2" y="690.5" width="5.6" height="34" rx="2" fill="#000" stroke="none"/>
<line x1="1194" y1="701.0" x2="1221" y2="683.6203015094411" stroke-width="2.8"/>
<line x1="1194" y1="714.0" x2="1221" y2="731.3796984905589" stroke-width="2.8"/>
<polygon points="1196.16,699.6096241207553 1210.5,684.9 1215.5,692.7" fill="#000" stroke="none"/>
<line x1="1221.5" y1="494" x2="1221" y2="683.6203015094411" stroke-width="3.0"/>
<line x1="1221" y1="731.3796984905589" x2="1221" y2="764" stroke-width="3.0"/>
<circle cx="1222" cy="230" r="4.6" fill="#000" stroke="none"/>
<circle cx="1221" cy="647" r="4.6" fill="#000" stroke="none"/>
<line x1="1222" y1="230" x2="1246" y2="230" stroke-width="3.0"/>
<polyline points="1246,230 1248.3,223 1253.0,237 1257.7,223 1262.3,237 1267.0,223 1271.7,237 1274,230" stroke-width="3.4" fill="none"/>
<line x1="1274" y1="230" x2="1307.5" y2="230" stroke-width="3.0"/>
<circle cx="1320" cy="232" r="27" fill="none" stroke-width="3.5"/>
<rect x="1304.7" y="215.0" width="5.6" height="34" rx="2" fill="#000" stroke="none"/>
<line x1="1307.5" y1="225.5" x2="1334" y2="207.52062092290737" stroke-width="2.8"/>
<line x1="1307.5" y1="238.5" x2="1334" y2="256.47937907709263" stroke-width="2.8"/>
<polygon points="1333.205,255.93999770477984 1314.1,248.5 1319.2,240.9" fill="#000" stroke="none"/>
<line x1="1221" y1="647" x2="1246" y2="647" stroke-width="3.0"/>
<polyline points="1246,647 1248.2,640 1252.5,654 1256.8,640 1261.2,654 1265.5,640 1269.8,654 1272,647" stroke-width="3.4" fill="none"/>
<line x1="1272" y1="647" x2="1306" y2="647" stroke-width="3.0"/>
<circle cx="1318" cy="648.5" r="27" fill="none" stroke-width="3.5"/>
<rect x="1303.2" y="631.5" width="5.6" height="34" rx="2" fill="#000" stroke="none"/>
<line x1="1306" y1="642.0" x2="1334" y2="625.27845827685" stroke-width="2.8"/>
<line x1="1306" y1="655.0" x2="1334" y2="671.72154172315" stroke-width="2.8"/>
<polygon points="1308.24,640.662276662148 1323.1,626.5 1327.8,634.4" fill="#000" stroke="none"/>
<line x1="1334" y1="16.5" x2="1334" y2="207.52062092290737" stroke-width="3.0"/>
<line x1="1334" y1="256.47937907709263" x2="1334" y2="337" stroke-width="3.0"/>
<polyline points="1334,337 1342,339.8 1326,345.2 1342,350.8 1326,356.2 1342,361.8 1326,367.2 1334,370" stroke-width="3.4" fill="none"/>
<line x1="1334" y1="370" x2="1334" y2="464" stroke-width="3.0"/>
<polyline points="1334,464 1342,466.6 1326,471.8 1342,476.9 1326,482.1 1342,487.2 1326,492.4 1334,495" stroke-width="3.4" fill="none"/>
<line x1="1334" y1="495" x2="1334" y2="625.27845827685" stroke-width="3.0"/>
<line x1="1334" y1="671.72154172315" x2="1334" y2="764" stroke-width="3.0"/>
<circle cx="1334" cy="289" r="4.6" fill="#000" stroke="none"/>
<circle cx="1334" cy="591" r="4.6" fill="#000" stroke="none"/>
<circle cx="1250" cy="289" r="4.6" fill="#000" stroke="none"/>
<circle cx="1250" cy="591" r="4.6" fill="#000" stroke="none"/>
<line x1="1250" y1="289" x2="1250" y2="305" stroke-width="3.0"/>
<polyline points="1250,305 1258,307.1 1242,311.2 1258,315.4 1242,319.6 1258,323.8 1242,327.9 1250,330" stroke-width="3.4" fill="none"/>
<line x1="1250" y1="330" x2="1250" y2="425" stroke-width="3.0"/>
<polyline points="1250,425 1258,427.4 1242,432.2 1258,437.1 1242,441.9 1258,446.8 1242,451.6 1250,454" stroke-width="3.4" fill="none"/>
<line x1="1250" y1="454" x2="1250" y2="591" stroke-width="3.0"/>
<rect x="1311" y="317.5" width="45" height="184.5" fill="none" stroke-width="1.8" stroke-dasharray="11,6"/>
<path d="M1336,606.5 Q1398,660 1331,731" fill="none" stroke-width="1.3"/>
<polygon points="1347,615 1340.2,612.3 1342.7,609.1" fill="#000" stroke="none"/>
<path d="M1236,639 Q1233,655 1229,664" fill="none" stroke-width="1.4"/>
<polygon points="1225.5,668.5 1228.0,660.6 1231.7,663.0" fill="#000" stroke="none"/>
<line x1="1450" y1="416" x2="1450" y2="431" stroke-width="3.0"/>
<polyline points="1450,431 1458,433.4 1442,438.2 1458,443.1 1442,447.9 1458,452.8 1442,457.6 1450,460" stroke-width="3.4" fill="none"/>
<line x1="1450" y1="460" x2="1450" y2="485" stroke-width="3.0"/>
<rect x="1439" y="484.0" width="22" height="11" fill="#fff" stroke="none"/>
<rect y="482.65" x="1439" height="4.7" width="22" rx="1.5" fill="#000" stroke="none"/>
<rect y="491.65" x="1439" height="4.7" width="22" rx="1.5" fill="#000" stroke="none"/>
<line x1="1450" y1="494" x2="1450" y2="532" stroke-width="3.0"/>
<circle cx="1450" cy="532" r="9" fill="#000" stroke="none"/>
<line x1="1450" y1="532" x2="1450" y2="886" stroke-width="8"/>
<line x1="1444" y1="819" x2="1726" y2="819" stroke-width="8.5"/>
<circle cx="1449" cy="819" r="9" fill="#000" stroke="none"/>
<circle cx="1540" cy="819" r="9" fill="#000" stroke="none"/>
<circle cx="1599.5" cy="819" r="9" fill="#000" stroke="none"/>
<polyline points="1540,416 1540,387.5 1557,387.5" stroke-width="3.0" fill="none"/>
<path d="M1557,387.5 C1559,378 1566,375 1573,377 C1578,374 1586,374 1590,377 C1596,374 1606,376 1609,384 L1611,387.5" fill="none" stroke-width="2.4"/>
<ellipse cx="1577" cy="388" rx="4" ry="8" fill="none" stroke-width="2.6"/>
<ellipse cx="1592" cy="388" rx="4" ry="8" fill="none" stroke-width="2.6"/>
<polyline points="1611,387.5 1626,387.5 1626,416" stroke-width="3.0" fill="none"/>
<polyline points="1540,416 1540,444 1574,444" stroke-width="3.0" fill="none"/>
<polyline points="1574,444 1576.2,437 1580.8,451 1585.2,437 1589.8,451 1594.2,437 1598.8,451 1601,444" stroke-width="3.4" fill="none"/>
<polyline points="1601,444 1626,444 1626,416" stroke-width="3.0" fill="none"/>
<line x1="1510" y1="593.5" x2="1713.6" y2="593.5" stroke-width="3.0"/>
<line x1="1713.6" y1="593.5" x2="1713.6" y2="886" stroke-width="3.0"/>
<circle cx="1510" cy="593.5" r="4.6" fill="#000" stroke="none"/>
<circle cx="1541" cy="593.5" r="4.6" fill="#000" stroke="none"/>
<circle cx="1600" cy="593.5" r="4.6" fill="#000" stroke="none"/>
<line x1="1541" y1="593.5" x2="1541" y2="706" stroke-width="3.0"/>
<polyline points="1541,706 1549,708.4 1533,713.2 1549,718.1 1533,722.9 1549,727.8 1533,732.6 1541,735" stroke-width="3.4" fill="none"/>
<line x1="1541" y1="735" x2="1541" y2="886" stroke-width="3.0"/>
<line x1="1600" y1="593.5" x2="1600" y2="886" stroke-width="3.0"/>
<rect x="1587.6" y="707" width="22.40000000000009" height="14" fill="#fff" stroke="none"/>
<rect x="1587.6" y="707" width="22.40000000000009" height="5" rx="2" fill="#000" stroke="none"/>
<rect x="1587.6" y="716" width="22.40000000000009" height="5" rx="2" fill="#000" stroke="none"/>
<line x1="1589.8999999999999" y1="716.5" x2="1593.8999999999999" y2="711.5" stroke-width="2.2"/>
<line x1="1594.5" y1="716.5" x2="1598.5" y2="711.5" stroke-width="2.2"/>
<line x1="1599.1" y1="716.5" x2="1603.1" y2="711.5" stroke-width="2.2"/>
<line x1="1603.7" y1="716.5" x2="1607.7" y2="711.5" stroke-width="2.2"/>
<text y="7.8" font-size="48" style="stroke-width:0.1" x="-5 22 51.5 106 146.6 177 191 251 279 318 335 384 414 442.7 484 514 580 606 639.5 672.6 703 726.7 752">700MAINAMP.POWERSUPLLY.</text>
<text x="440" y="47.5" class="n" font-size="17.8" textLength="47.5" lengthAdjust="spacingAndGlyphs">R705</text>
<text x="440" y="67.5" class="n" font-size="17.8" textLength="100" lengthAdjust="spacingAndGlyphs">390 (1/4W)</text>
<text x="495" y="34" class="bi" font-size="17.8" textLength="52" lengthAdjust="spacingAndGlyphs">52.3V</text>
<text x="357" y="89" class="bi" font-size="17.8" textLength="50" lengthAdjust="spacingAndGlyphs">51.5V</text>
<text x="321" y="124" class="q" font-size="26" textLength="60" lengthAdjust="spacingAndGlyphs">Q705</text>
<text x="591" y="47.5" class="n" font-size="17.8" textLength="47" lengthAdjust="spacingAndGlyphs">R707</text>
<text x="592" y="67.5" class="b" font-size="17.8" textLength="35" lengthAdjust="spacingAndGlyphs">360</text>
<text x="634" y="67.5" class="n" font-size="17.8" textLength="52" lengthAdjust="spacingAndGlyphs">(1/4W)</text>
<text x="587" y="91" class="i" font-size="17.8" textLength="50" lengthAdjust="spacingAndGlyphs">51.5V</text>
<text x="599" y="124" class="q" font-size="26" textLength="60" lengthAdjust="spacingAndGlyphs">Q707</text>
<text x="437" y="191" class="n" font-size="17.8" textLength="42" lengthAdjust="spacingAndGlyphs">R781</text>
<text x="501" y="191" class="b" font-size="17.8" textLength="33" lengthAdjust="spacingAndGlyphs">56k</text>
<text x="654" y="156" class="n" font-size="16.6" textLength="45" lengthAdjust="spacingAndGlyphs">Q745</text>
<text x="736" y="47.5" class="n" font-size="17.8" textLength="43" lengthAdjust="spacingAndGlyphs">R717</text>
<text x="736" y="67.5" class="n" font-size="17.8" textLength="41" lengthAdjust="spacingAndGlyphs">6.8k</text>
<text x="727" y="87" class="b" font-size="17.8" textLength="54" lengthAdjust="spacingAndGlyphs">(1/4W)</text>
<text x="851" y="47.5" class="n" font-size="17.8" textLength="46" lengthAdjust="spacingAndGlyphs">R719</text>
<text x="851" y="68.5" class="n" font-size="17.8" textLength="110" lengthAdjust="spacingAndGlyphs">220 (1/2W)</text>
<text x="844" y="89" class="bi" font-size="17.8" textLength="50" lengthAdjust="spacingAndGlyphs">50.7V</text>
<text x="862" y="124" class="q" font-size="26" textLength="58" lengthAdjust="spacingAndGlyphs">Q713</text>
<text x="844" y="158" class="bi" font-size="17.8" textLength="43" lengthAdjust="spacingAndGlyphs">1.15V</text>
<polygon points="1043.5,91 1057,115 1030,115" fill="none" stroke-width="1.6" stroke-linejoin="miter"/>
<line x1="1043.5" y1="98.2" x2="1043.5" y2="108.28" stroke-width="1.8"/>
<line x1="1043.5" y1="110.2" x2="1043.5" y2="112.12" stroke-width="1.8"/>
<text x="1020" y="136" class="n" font-size="17.8" textLength="49" lengthAdjust="spacingAndGlyphs">R739</text>
<text x="1025" y="156" class="n" font-size="17.8" textLength="29" lengthAdjust="spacingAndGlyphs">120</text>
<text x="1016" y="217" class="n" font-size="16.6" textLength="46" lengthAdjust="spacingAndGlyphs">Q733</text>
<text x="1107" y="165" class="bi" font-size="17.8" textLength="45" lengthAdjust="spacingAndGlyphs">1.15V</text>
<text x="1092" y="197" class="n" font-size="17.8" textLength="45" lengthAdjust="spacingAndGlyphs">C719</text>
<text x="1094" y="215" class="n" font-size="17.8" textLength="52" lengthAdjust="spacingAndGlyphs">1500p</text>
<text x="731" y="201" class="i" font-size="17.8" textLength="43" lengthAdjust="spacingAndGlyphs">50V</text>
<text x="942" y="203" class="n" font-size="17.8" textLength="46" lengthAdjust="spacingAndGlyphs">R737</text>
<text x="945" y="221" class="n" font-size="17.8" textLength="15" lengthAdjust="spacingAndGlyphs">1k</text>
<text x="1131" y="130" class="q" font-size="26" textLength="58" lengthAdjust="spacingAndGlyphs">Q719</text>
<polygon points="1161.0,84 1175,107 1147,107" fill="none" stroke-width="1.6" stroke-linejoin="miter"/>
<line x1="1161.0" y1="90.9" x2="1161.0" y2="100.56" stroke-width="1.8"/>
<line x1="1161.0" y1="102.4" x2="1161.0" y2="104.24" stroke-width="1.8"/>
<text x="1406" y="141" class="n" font-size="16.6" textLength="44" lengthAdjust="spacingAndGlyphs">Q741</text>
<text x="1237" y="200" class="n" font-size="17.8" textLength="44" lengthAdjust="spacingAndGlyphs">R743</text>
<text x="1246" y="216" class="n" font-size="17.8" textLength="16" lengthAdjust="spacingAndGlyphs">10</text>
<polygon points="1260.5,160 1274,182 1247,182" fill="none" stroke-width="1.6" stroke-linejoin="miter"/>
<line x1="1260.5" y1="166.6" x2="1260.5" y2="175.84" stroke-width="1.8"/>
<line x1="1260.5" y1="177.6" x2="1260.5" y2="179.36" stroke-width="1.8"/>
<text x="1170" y="220" class="i" font-size="17.8" textLength="46" lengthAdjust="spacingAndGlyphs">0.6V</text>
<text x="364" y="280" class="bi" font-size="17.8" textLength="52" lengthAdjust="spacingAndGlyphs">50.1V</text>
<text x="78" y="377" class="b" font-size="16.6" textLength="41" lengthAdjust="spacingAndGlyphs">R701</text>
<text x="78" y="392" class="b" font-size="16.6" textLength="31" lengthAdjust="spacingAndGlyphs">470</text>
<text x="172" y="375" class="b" font-size="16.6" textLength="42" lengthAdjust="spacingAndGlyphs">C701</text>
<text x="161" y="393" class="b" font-size="16.6" textLength="59" lengthAdjust="spacingAndGlyphs">10/25V</text>
<text x="169" y="433" class="n" font-size="17.8">+</text>
<text x="335" y="368" class="q" font-size="26" textLength="56" lengthAdjust="spacingAndGlyphs">Q701</text>
<text x="349" y="406" class="i" font-size="17.8" textLength="27" lengthAdjust="spacingAndGlyphs">0V</text>
<text x="577" y="274" class="bi" font-size="17.8" textLength="58" lengthAdjust="spacingAndGlyphs">50.9V</text>
<text x="441" y="296" class="n" font-size="17.8" textLength="48" lengthAdjust="spacingAndGlyphs">R709</text>
<text x="447" y="315" class="b" font-size="17.8" textLength="40" lengthAdjust="spacingAndGlyphs">1.5k</text>
<text x="511" y="299" class="n" font-size="17.8" textLength="48" lengthAdjust="spacingAndGlyphs">C703</text>
<text x="521" y="319" class="b" font-size="17.8" textLength="33" lengthAdjust="spacingAndGlyphs">33p</text>
<text x="490" y="372" class="q" font-size="26" textLength="59" lengthAdjust="spacingAndGlyphs">Q703</text>
<text x="652" y="330" class="n" font-size="17.8" textLength="49" lengthAdjust="spacingAndGlyphs">C705</text>
<text x="657" y="349" class="n" font-size="17.8" textLength="34" lengthAdjust="spacingAndGlyphs">47p</text>
<text x="754" y="342" class="q" font-size="26" textLength="56" lengthAdjust="spacingAndGlyphs">Q717</text>
<text x="745" y="241" class="q" font-size="26" textLength="55" lengthAdjust="spacingAndGlyphs">Q711</text>
<text x="727" y="267" class="i" font-size="17.8" textLength="28" lengthAdjust="spacingAndGlyphs">0V</text>
<text x="619" y="406" class="i" font-size="17.8" textLength="22" lengthAdjust="spacingAndGlyphs">0V</text>
<text x="861" y="289" class="n" font-size="16.6" textLength="46" lengthAdjust="spacingAndGlyphs">Q753</text>
<text x="864" y="405" class="i" font-size="17.8" textLength="53" lengthAdjust="spacingAndGlyphs">–0.5V</text>
<text x="956" y="297" class="n" font-size="17.8" textLength="41" lengthAdjust="spacingAndGlyphs">C713</text>
<text x="959" y="315" class="n" font-size="17.8" textLength="27" lengthAdjust="spacingAndGlyphs">100</text>
<text x="957" y="336" class="n" font-size="17.8" textLength="30" lengthAdjust="spacingAndGlyphs">10V</text>
<text x="1024" y="297" class="n" font-size="16.6">+</text>
<text x="939" y="356" class="n" font-size="17.8" textLength="47" lengthAdjust="spacingAndGlyphs">R735</text>
<text x="939" y="376" class="n" font-size="17.8" textLength="36" lengthAdjust="spacingAndGlyphs">470</text>
<text x="1074" y="345" class="q" font-size="26" textLength="58" lengthAdjust="spacingAndGlyphs">Q727</text>
<text x="1160" y="259" class="n" font-size="17.8" textLength="40" lengthAdjust="spacingAndGlyphs">R771</text>
<text x="1161" y="275" class="n" font-size="17.8" textLength="28" lengthAdjust="spacingAndGlyphs">100</text>
<text x="1161" y="345" class="n" font-size="17.8" textLength="44" lengthAdjust="spacingAndGlyphs">R757</text>
<text x="1161" y="362" class="n" font-size="17.8" textLength="40" lengthAdjust="spacingAndGlyphs">3.3k</text>
<text x="1079" y="370" class="n" font-size="17.8" textLength="46" lengthAdjust="spacingAndGlyphs">Q737</text>
<text x="1240" y="259" class="n" font-size="17.8" textLength="46" lengthAdjust="spacingAndGlyphs">R753</text>
<text x="1250" y="276" class="n" font-size="17.8" textLength="30" lengthAdjust="spacingAndGlyphs">150</text>
<text x="1339" y="282" class="i" font-size="17.8" textLength="26" lengthAdjust="spacingAndGlyphs">0V</text>
<text x="1241" y="380" class="n" font-size="16.6" textLength="84" lengthAdjust="spacingAndGlyphs" transform="rotate(-90 1241 380)">R793 270</text>
<polygon points="1281.0,327 1295,350 1267,350" fill="none" stroke-width="1.6" stroke-linejoin="miter"/>
<line x1="1281.0" y1="333.9" x2="1281.0" y2="343.56" stroke-width="1.8"/>
<line x1="1281.0" y1="345.4" x2="1281.0" y2="347.24" stroke-width="1.8"/>
<text x="1259" y="366" class="n" font-size="17.8" textLength="45" lengthAdjust="spacingAndGlyphs">R749</text>
<text x="1259" y="382" class="n" font-size="17.8" textLength="44" lengthAdjust="spacingAndGlyphs">0.33</text>
<text x="1259" y="401" class="n" font-size="17.8" textLength="45" lengthAdjust="spacingAndGlyphs">(5W)</text>
<text x="1396" y="246" class="q" font-size="26" textLength="61" lengthAdjust="spacingAndGlyphs">Q723</text>
<polygon points="1430.0,199 1444,222 1416,222" fill="none" stroke-width="1.6" stroke-linejoin="miter"/>
<line x1="1430.0" y1="205.9" x2="1430.0" y2="215.56" stroke-width="1.8"/>
<line x1="1430.0" y1="217.4" x2="1430.0" y2="219.24" stroke-width="1.8"/>
<text x="1375" y="504" class="n" font-size="16.6" textLength="78" lengthAdjust="spacingAndGlyphs" transform="rotate(-90 1375 504)">0.33 (5W)</text>
<text x="1560" y="366" class="n" font-size="16.6" textLength="40" lengthAdjust="spacingAndGlyphs">L701</text>
<text x="1460" y="446" class="n" font-size="17.8" textLength="46" lengthAdjust="spacingAndGlyphs">R765</text>
<text x="1467" y="462" class="n" font-size="17.8" textLength="18" lengthAdjust="spacingAndGlyphs">10</text>
<text x="1461" y="479" class="n" font-size="17.8" textLength="41" lengthAdjust="spacingAndGlyphs">(2W)</text>
<text x="1419" y="526" class="n" font-size="16.6" textLength="41" lengthAdjust="spacingAndGlyphs" transform="rotate(-90 1419 526)">C717</text>
<text x="1434" y="526" class="n" font-size="16.6" textLength="52" lengthAdjust="spacingAndGlyphs" transform="rotate(-90 1434 526)">0.047</text>
<text x="1566" y="471" class="n" font-size="17.8" textLength="45" lengthAdjust="spacingAndGlyphs">R763</text>
<text x="1545" y="489" class="n" font-size="17.8" textLength="90" lengthAdjust="spacingAndGlyphs">2.2 (1/2W)</text>
<text x="162" y="479" class="n" font-size="17.8" textLength="44" lengthAdjust="spacingAndGlyphs">C723</text>
<text x="161" y="497" class="n" font-size="17.8" textLength="46" lengthAdjust="spacingAndGlyphs">470p</text>
<text x="276" y="461" class="n" font-size="17.8" textLength="45" lengthAdjust="spacingAndGlyphs">R703</text>
<text x="279" y="480" class="n" font-size="17.8" textLength="35" lengthAdjust="spacingAndGlyphs">8.2k</text>
<text x="361" y="506" class="n" font-size="17.8" textLength="46" lengthAdjust="spacingAndGlyphs">C739</text>
<text x="362" y="524" class="n" font-size="17.8" textLength="40" lengthAdjust="spacingAndGlyphs">100p</text>
<text x="242" y="560" class="n" font-size="17.8" textLength="48" lengthAdjust="spacingAndGlyphs">R779</text>
<text x="241" y="577.5" class="n" font-size="17.8" textLength="34" lengthAdjust="spacingAndGlyphs">68k</text>
<text x="340" y="556" class="n" font-size="17.8" textLength="42" lengthAdjust="spacingAndGlyphs">C731</text>
<text x="340" y="575" class="n" font-size="17.8" textLength="51" lengthAdjust="spacingAndGlyphs">0.022</text>
<text x="431" y="455" class="i" font-size="17.8" textLength="56" lengthAdjust="spacingAndGlyphs">–0.6V</text>
<text x="516" y="464" class="i" font-size="17.8" textLength="56" lengthAdjust="spacingAndGlyphs">–0.6V</text>
<text x="441" y="502" class="n" font-size="17.8" textLength="46" lengthAdjust="spacingAndGlyphs">R767</text>
<text x="461" y="519" class="b" font-size="17.8" textLength="21" lengthAdjust="spacingAndGlyphs">56</text>
<text x="519" y="504" class="n" font-size="17.8" textLength="47" lengthAdjust="spacingAndGlyphs">R769</text>
<text x="521" y="519" class="b" font-size="17.8" textLength="21" lengthAdjust="spacingAndGlyphs">56</text>
<text x="581" y="504" class="n" font-size="17.8" textLength="39" lengthAdjust="spacingAndGlyphs">C741</text>
<text x="582" y="521" class="n" font-size="17.8" textLength="40" lengthAdjust="spacingAndGlyphs">100p</text>
<text x="665" y="444" class="n" font-size="17.8" textLength="41" lengthAdjust="spacingAndGlyphs">R715</text>
<text x="672" y="462" class="n" font-size="17.8" textLength="28" lengthAdjust="spacingAndGlyphs">12k</text>
<text x="662" y="499" class="n" font-size="17.8" textLength="43" lengthAdjust="spacingAndGlyphs">R713</text>
<text x="665" y="516" class="b" font-size="17.8" textLength="34" lengthAdjust="spacingAndGlyphs">220</text>
<text x="732" y="437" class="n" font-size="17.8" textLength="35" lengthAdjust="spacingAndGlyphs">C711</text>
<text x="781" y="437" class="n" font-size="17.8" textLength="45" lengthAdjust="spacingAndGlyphs">270p</text>
<text x="730" y="512" class="n" font-size="17.8" textLength="46" lengthAdjust="spacingAndGlyphs">R723</text>
<text x="791" y="512" class="n" font-size="17.8" textLength="33" lengthAdjust="spacingAndGlyphs">47k</text>
<text x="870" y="451" class="n" font-size="17.8" textLength="44" lengthAdjust="spacingAndGlyphs">R733</text>
<text x="876" y="470" class="n" font-size="17.8" textLength="15" lengthAdjust="spacingAndGlyphs">1k</text>
<text x="856" y="510" class="i" font-size="17.8" textLength="49" lengthAdjust="spacingAndGlyphs">–1.1V</text>
<text x="1092" y="512" class="n" font-size="16.6" textLength="46" lengthAdjust="spacingAndGlyphs" transform="rotate(-90 1092 512)">Q739</text>
<text x="1161" y="454" class="n" font-size="17.8" textLength="40" lengthAdjust="spacingAndGlyphs">R761</text>
<text x="1161" y="472" class="n" font-size="17.8" textLength="26" lengthAdjust="spacingAndGlyphs">15k</text>
<text x="1161" y="491" class="n" font-size="17.8" textLength="45" lengthAdjust="spacingAndGlyphs">R747</text>
<text x="1161" y="506" class="n" font-size="17.8" textLength="33" lengthAdjust="spacingAndGlyphs">270</text>
<text x="1161" y="524" class="n" font-size="17.8" textLength="55" lengthAdjust="spacingAndGlyphs">(1/2W)</text>
<text x="1255" y="469" class="n" font-size="17.8" textLength="45" lengthAdjust="spacingAndGlyphs">R795</text>
<text x="1257" y="485" class="n" font-size="17.8" textLength="34" lengthAdjust="spacingAndGlyphs">270</text>
<text x="437" y="569" class="n" font-size="17.8" textLength="46" lengthAdjust="spacingAndGlyphs">R777</text>
<text x="439" y="587" class="n" font-size="17.8" textLength="44" lengthAdjust="spacingAndGlyphs">220k</text>
<text x="502" y="572" class="i" font-size="17.8" textLength="54" lengthAdjust="spacingAndGlyphs">–0.6V</text>
<text x="662" y="560" class="b" font-size="17.8" textLength="48" lengthAdjust="spacingAndGlyphs">R725</text>
<text x="676" y="576" class="b" font-size="17.8" textLength="16" lengthAdjust="spacingAndGlyphs">10</text>
<text x="661" y="596" class="n" font-size="17.8" textLength="45" lengthAdjust="spacingAndGlyphs">R727</text>
<text x="665" y="614" class="n" font-size="17.8" textLength="33" lengthAdjust="spacingAndGlyphs">33k</text>
<text x="550" y="609" class="q" font-size="26" textLength="62" lengthAdjust="spacingAndGlyphs">Q709</text>
<text x="902" y="581" class="q" font-size="26" textLength="64" lengthAdjust="spacingAndGlyphs">Q729</text>
<text x="1161" y="552" class="n" font-size="17.8" textLength="49" lengthAdjust="spacingAndGlyphs">R759</text>
<text x="1161" y="571" class="n" font-size="17.8" textLength="40" lengthAdjust="spacingAndGlyphs">3.3k</text>
<text x="1257" y="564" class="n" font-size="17.8" textLength="47" lengthAdjust="spacingAndGlyphs">R755</text>
<text x="1262" y="579" class="n" font-size="17.8" textLength="29" lengthAdjust="spacingAndGlyphs">150</text>
<text x="235" y="634" class="i" font-size="17.8" textLength="24" lengthAdjust="spacingAndGlyphs">0V</text>
<text x="429" y="615" class="i" font-size="17.8" textLength="27" lengthAdjust="spacingAndGlyphs">0V</text>
<text x="412" y="671" class="i" font-size="17.8" textLength="23" lengthAdjust="spacingAndGlyphs">0V</text>
<text x="259.5" y="652" class="n" font-size="16.6" text-anchor="middle">7</text>
<text x="326" y="625" class="n" font-size="16.6" text-anchor="middle">8</text>
<text x="399" y="623.5" class="n" font-size="16.6" text-anchor="middle">5</text>
<text x="399" y="682" class="n" font-size="16.6" text-anchor="middle">6</text>
<text x="246" y="706" class="q" font-size="26" textLength="61" lengthAdjust="spacingAndGlyphs">Q747</text>
<text x="244" y="734" class="q" font-size="26" textLength="56" lengthAdjust="spacingAndGlyphs">(1/2)</text>
<text x="300" y="759" class="n" font-size="17.8" textLength="46" lengthAdjust="spacingAndGlyphs">C729</text>
<text x="290" y="776" class="n" font-size="17.8" textLength="91" lengthAdjust="spacingAndGlyphs">1/50V(BP)</text>
<text x="730" y="642" class="bi" font-size="17.8" textLength="66" lengthAdjust="spacingAndGlyphs">–47.0V</text>
<text x="504" y="701" class="i" font-size="17.8" textLength="74" lengthAdjust="spacingAndGlyphs">–46.5V</text>
<text x="514" y="724" class="n" font-size="17.8" textLength="38" lengthAdjust="spacingAndGlyphs">R711</text>
<text x="514" y="745" class="n" font-size="17.8" textLength="34" lengthAdjust="spacingAndGlyphs">1.2k</text>
<text x="662" y="692" class="n" font-size="17.8" textLength="48" lengthAdjust="spacingAndGlyphs">R729</text>
<text x="665" y="712" class="b" font-size="17.8" textLength="39" lengthAdjust="spacingAndGlyphs">3.3k</text>
<text x="657" y="747" class="n" font-size="17.8" textLength="44" lengthAdjust="spacingAndGlyphs">Q731</text>
<text x="863" y="658" class="q" font-size="26" textLength="58" lengthAdjust="spacingAndGlyphs">Q715</text>
<text x="843" y="689" class="bi" font-size="17.8" textLength="70" lengthAdjust="spacingAndGlyphs">–47.6V</text>
<text x="853" y="726" class="n" font-size="17.8" textLength="43" lengthAdjust="spacingAndGlyphs">R731</text>
<text x="854" y="745" class="n" font-size="17.8" textLength="77" lengthAdjust="spacingAndGlyphs">1k (1/4W)</text>
<text x="1019" y="669" class="n" font-size="17.8" textLength="43" lengthAdjust="spacingAndGlyphs">Q735</text>
<text x="1094" y="676" class="n" font-size="17.8" textLength="43" lengthAdjust="spacingAndGlyphs">C721</text>
<text x="1094" y="695" class="n" font-size="17.8" textLength="52" lengthAdjust="spacingAndGlyphs">1500p</text>
<text x="1164" y="620" class="n" font-size="17.8" textLength="46" lengthAdjust="spacingAndGlyphs">R773</text>
<text x="1164" y="640" class="n" font-size="17.8" textLength="30" lengthAdjust="spacingAndGlyphs">100</text>
<text x="1225" y="634" class="i" font-size="17.8" textLength="52" lengthAdjust="spacingAndGlyphs">–0.6V</text>
<text x="1240" y="675" class="n" font-size="17.8" textLength="45" lengthAdjust="spacingAndGlyphs">R745</text>
<text x="1249" y="692" class="n" font-size="17.8" textLength="16" lengthAdjust="spacingAndGlyphs">10</text>
<polygon points="1278.0,682 1291,706 1265,706" fill="none" stroke-width="1.6" stroke-linejoin="miter"/>
<line x1="1278.0" y1="689.2" x2="1278.0" y2="699.28" stroke-width="1.8"/>
<line x1="1278.0" y1="701.2" x2="1278.0" y2="703.12" stroke-width="1.8"/>
<text x="1025" y="734" class="n" font-size="17.8" textLength="41" lengthAdjust="spacingAndGlyphs">R741</text>
<text x="1026" y="752" class="n" font-size="17.8" textLength="30" lengthAdjust="spacingAndGlyphs">120</text>
<polygon points="1081.0,727 1095,751 1067,751" fill="none" stroke-width="1.6" stroke-linejoin="miter"/>
<line x1="1081.0" y1="734.2" x2="1081.0" y2="744.28" stroke-width="1.8"/>
<line x1="1081.0" y1="746.2" x2="1081.0" y2="748.12" stroke-width="1.8"/>
<text x="1246" y="744" class="i" font-size="17.8" textLength="81" lengthAdjust="spacingAndGlyphs">–0.004V</text>
<text x="1019" y="781" class="bi" font-size="17.8" textLength="68" lengthAdjust="spacingAndGlyphs">–52.2V</text>
<text x="1394" y="625" class="n" font-size="16.6" textLength="46" lengthAdjust="spacingAndGlyphs">Q743</text>
<text x="1177.5" y="799" class="q" font-size="26" textLength="53" lengthAdjust="spacingAndGlyphs">Q721</text>
<polygon points="1248.75,774 1262.5,797.5 1235,797.5" fill="none" stroke-width="1.6" stroke-linejoin="miter"/>
<line x1="1248.75" y1="781.05" x2="1248.75" y2="790.92" stroke-width="1.8"/>
<line x1="1248.75" y1="792.8" x2="1248.75" y2="794.68" stroke-width="1.8"/>
<text x="1297.5" y="799" class="q" font-size="26" textLength="57" lengthAdjust="spacingAndGlyphs">Q725</text>
<polygon points="1371.25,775 1385,799 1357.5,799" fill="none" stroke-width="1.6" stroke-linejoin="miter"/>
<line x1="1371.25" y1="782.2" x2="1371.25" y2="792.28" stroke-width="1.8"/>
<line x1="1371.25" y1="794.2" x2="1371.25" y2="796.12" stroke-width="1.8"/>
<text x="1176" y="865" class="q" font-size="26" textLength="59" lengthAdjust="spacingAndGlyphs">Q722</text>
<polygon points="1251.25,840 1265,864 1237.5,864" fill="none" stroke-width="1.6" stroke-linejoin="miter"/>
<line x1="1251.25" y1="847.2" x2="1251.25" y2="857.28" stroke-width="1.8"/>
<line x1="1251.25" y1="859.2" x2="1251.25" y2="861.12" stroke-width="1.8"/>
<text x="1295" y="865" class="q" font-size="26" textLength="59" lengthAdjust="spacingAndGlyphs">Q726</text>
<polygon points="1370.75,840 1384,864 1357.5,864" fill="none" stroke-width="1.6" stroke-linejoin="miter"/>
<line x1="1370.75" y1="847.2" x2="1370.75" y2="857.28" stroke-width="1.8"/>
<line x1="1370.75" y1="859.2" x2="1370.75" y2="861.12" stroke-width="1.8"/>
<text x="1543" y="755" class="n" font-size="16.6" textLength="45" lengthAdjust="spacingAndGlyphs">R817</text>
<text x="1543" y="774" class="b" font-size="16.6" textLength="26" lengthAdjust="spacingAndGlyphs">18k</text>
<text x="1541" y="795" class="n" font-size="16.6" textLength="52" lengthAdjust="spacingAndGlyphs">(1/2W)</text>
<polygon points="1566.5,716 1580,739 1553,739" fill="none" stroke-width="1.6" stroke-linejoin="miter"/>
<line x1="1566.5" y1="722.9" x2="1566.5" y2="732.56" stroke-width="1.8"/>
<line x1="1566.5" y1="734.4" x2="1566.5" y2="736.24" stroke-width="1.8"/>
<text x="1615" y="712" class="n" font-size="16.6" textLength="44" lengthAdjust="spacingAndGlyphs">C817</text>
<text x="1613" y="733" class="b" font-size="16.6" textLength="93" lengthAdjust="spacingAndGlyphs">10000/63V</text>
<text x="1602" y="688" class="n" font-size="16.6">+</text>
<polygon points="1637.0,671 1650,695 1624,695" fill="none" stroke-width="1.6" stroke-linejoin="miter"/>
<line x1="1637.0" y1="678.2" x2="1637.0" y2="688.28" stroke-width="1.8"/>
<line x1="1637.0" y1="690.2" x2="1637.0" y2="692.12" stroke-width="1.8"/>
<text x="425" y="815" class="n" font-size="17.8" textLength="47" lengthAdjust="spacingAndGlyphs">R775</text>
<text x="486" y="815" class="n" font-size="17.8" textLength="44" lengthAdjust="spacingAndGlyphs">220k</text>
<text x="425" y="837" class="n" font-size="17.8" textLength="47" lengthAdjust="spacingAndGlyphs">R776</text>
<text x="486" y="837" class="n" font-size="17.8" textLength="44" lengthAdjust="spacingAndGlyphs">220k</text>
<text x="501" y="875" class="bi" font-size="17.8" textLength="75" lengthAdjust="spacingAndGlyphs">–52.2V</text>
<text x="302" y="880" class="n" font-size="17.8" textLength="44" lengthAdjust="spacingAndGlyphs">C730</text>
<text x="290" y="895" class="n" font-size="17.8" textLength="91" lengthAdjust="spacingAndGlyphs">1/50V(BP)</text>
</svg></body></html>
